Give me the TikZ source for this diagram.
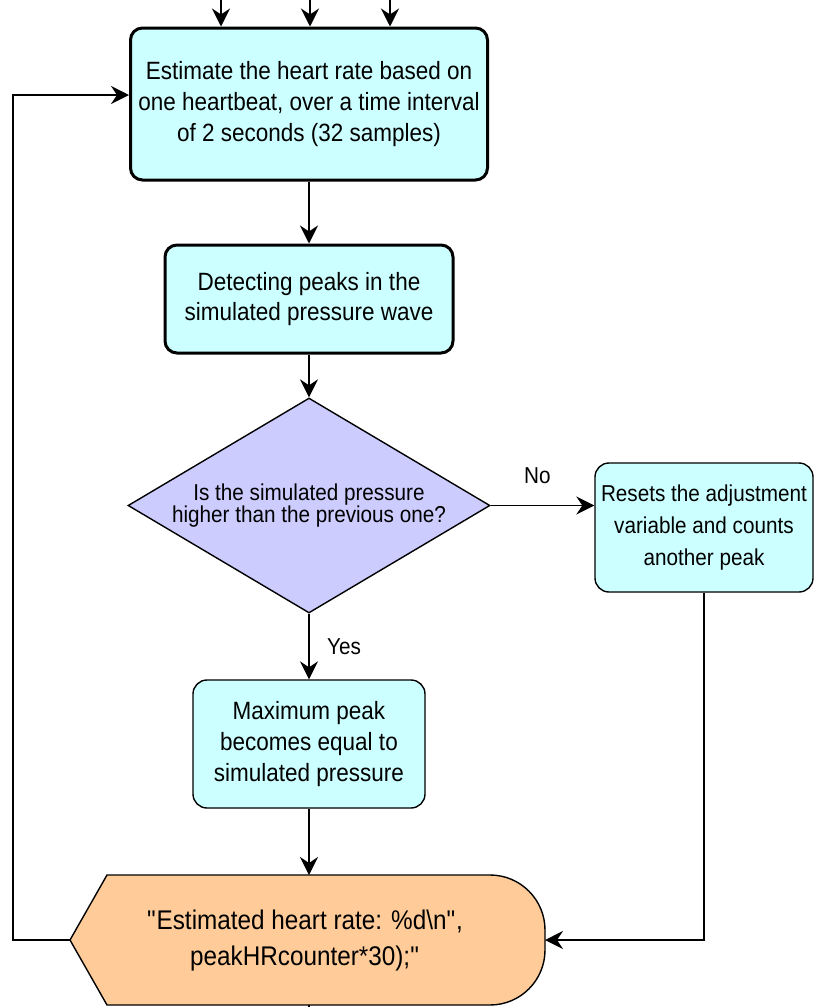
\documentclass[tikz,border=0pt]{standalone}
\usepackage{fontspec}
\setmainfont{Liberation Sans}[FakeStretch=0.9]
\usetikzlibrary{arrows.meta,shapes.geometric}
\definecolor{cyanfill}{HTML}{CCFFFF}
\definecolor{lilac}{HTML}{CCCCFF}
\definecolor{peach}{HTML}{FFCC99}
\begin{document}
\begin{tikzpicture}[x=1pt,y=1pt,
  conn/.style={line width=1.6pt,-{Stealth[length=18pt,width=18pt,inset=6pt]}},
  plain/.style={line width=1.6pt},
  boxthick/.style={draw,line width=3pt,rounded corners=12pt,fill=cyanfill,align=center,inner sep=0pt},
  boxthin/.style={draw,line width=1.4pt,rounded corners=14pt,fill=cyanfill,align=center,inner sep=0pt},
  lbl/.style={font=\fontsize{23}{26}\selectfont}
]
\useasboundingbox (0,0) rectangle (815,-1007);
% top box
\node[boxthick,minimum width=357pt,minimum height=152pt,font=\fontsize{25}{31}\selectfont] (b1) at (309,-104)
 {Estimate the heart rate based on\\one heartbeat, over a time interval\\of 2 seconds (32 samples)};
\node[boxthick,minimum width=288pt,minimum height=108pt,font=\fontsize{25}{30}\selectfont] (b2) at (309,-299)
 {Detecting peaks in the\\simulated pressure wave};
\node[draw,line width=1.4pt,fill=lilac,diamond,aspect=1.68,minimum width=362pt,minimum height=215pt,inner sep=0pt,
  align=center,font=\fontsize{23}{22}\selectfont] (d) at (309,-505.5)
 {Is the simulated pressure\\higher than the previous one?};
\node[boxthin,minimum width=218pt,minimum height=129pt,font=\fontsize{23}{32}\selectfont] (r) at (704,-527.5)
 {Resets the adjustment\\variable and counts\\another peak};
\node[boxthin,minimum width=232pt,minimum height=128pt,font=\fontsize{25}{31}\selectfont] (b3) at (309,-744)
 {Maximum peak\\becomes equal to\\simulated pressure};
% display shape
\path[draw,line width=1.4pt,fill=peach] (107,-875) -- (490,-875)
  arc[start angle=90,end angle=0,radius=55] -- (545,-950)
  arc[start angle=0,end angle=-90,radius=55] -- (107,-1005) -- (70,-940) -- cycle;
\coordinate (dtop) at (309,-875);
\coordinate (dleft) at (70,-940);
\coordinate (dright) at (545,-940);
\coordinate (dbot) at (309,-1005);
\node[align=center,font=\fontsize{27}{36}\selectfont] (dt) at (305,-941)
 {\textquotedbl Estimated heart rate: \%d\textbackslash n\textquotedbl,\\peakHRcounter*30);\textquotedbl};
% top arrows
\coordinate (t1) at (221,0);
\coordinate (t2) at (310,0);
\coordinate (t3) at (390,0);
\draw[conn] (t1) -- (t1 |- b1.north);
\draw[conn] (t2) -- (t2 |- b1.north);
\draw[conn] (t3) -- (t3 |- b1.north);
% connectors
\draw[conn] (b1.south) -- (b2.north);
\draw[conn] (b2.south) -- (d.north);
\draw[conn] (d.south) -- (b3.north) node[pos=0.5,right=14pt,lbl] {Yes};
\draw[conn] (d.east) -- (d.east -| r.west) node[pos=0.45,above=18pt,lbl] {No};
\draw[conn] (b3.south) -- (dtop);
\draw[conn] (r.south) |- (dright);
\coordinate (lc) at (13,-95);
\draw[conn] (dleft) -| (lc) -- (b1.west |- lc);
\coordinate (bb) at (309,-1007);
\draw[plain] (dbot) -- (bb);
\end{tikzpicture}
\end{document}
